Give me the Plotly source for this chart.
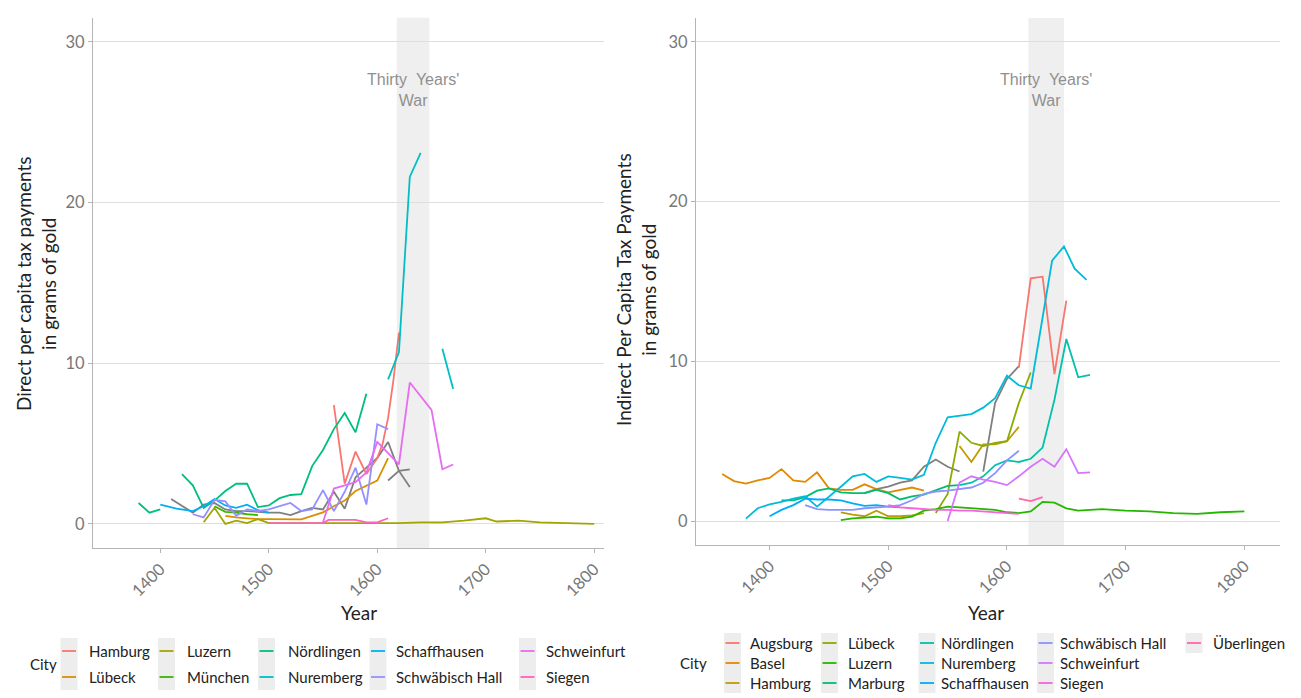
import plotly.graph_objects as go

W, H = 1301, 698
FONT = "Lato"


def px(x):
    return x / W


def py(y):
    return 1 - y / H


# ---------------- Direct per capita tax payments (left panel) ----------------
DIRECT_CITIES = ["Hamburg", "Lübeck", "Luzern", "München", "Nördlingen",
                 "Nuremberg", "Schaffhausen", "Schwäbisch Hall", "Schweinfurt", "Siegen"]
DIRECT_COLORS = ["#F8766D", "#D89000", "#A3A500", "#39B600", "#00BF7D",
                 "#00BFC4", "#00B0F6", "#9590FF", "#E76BF3", "#FF62BC"]

d_hamburg_years = [1560, 1570, 1580, 1590, 1600, 1605, 1610, 1615, 1620]
d_hamburg_vals = [7.4, 2.5, 4.5, 3.1, 4.1, 5.0, 6.6, 9.0, 11.9]

d_luebeck_years = [1460, 1470, 1480, 1490, 1500, 1510, 1520, 1530, 1540, 1550,
                   1560, 1570, 1580, 1590, 1600, 1610]
d_luebeck_vals = [0.5, 0.4, 0.35, 0.3, 0.3, 0.3, 0.3, 0.28, 0.5, 0.72,
                  1.1, 1.45, 2.05, 2.4, 2.7, 4.1]

d_luzern_years = [1440, 1450, 1460, 1470, 1480, 1490, 1500, 1520, 1540, 1560, 1580,
                  1600, 1620, 1640, 1660, 1680, 1700, 1710, 1730, 1750, 1770, 1800]
d_luzern_vals = [0.1, 1.0, 0.0, 0.2, 0.05, 0.3, 0.05, 0.05, 0.05, 0.05, 0.05,
                 0.05, 0.05, 0.1, 0.1, 0.2, 0.35, 0.15, 0.2, 0.1, 0.05, 0.0]

d_muenchen_years = [1450, 1460, 1470, 1480, 1490]
d_muenchen_vals = [1.1, 0.75, 0.7, 0.6, 0.55]

d_noerdlingen_years = [1380, 1390, 1400, 1410, 1420, 1430, 1440, 1450, 1460, 1470, 1480,
                       1490, 1500, 1510, 1520, 1530, 1540, 1550, 1560, 1570, 1580, 1590]
d_noerdlingen_vals = [1.3, 0.7, 0.9, None, 3.1, 2.4, 1.0, 1.45, 2.05, 2.5, 2.5,
                      1.05, 1.15, 1.6, 1.8, 1.85, 3.6, 4.6, 5.9, 6.9, 5.7, 8.1]

d_nuremberg_years = [1610, 1620, 1630, 1640, 1650, 1660, 1670]
d_nuremberg_vals = [9.0, 10.7, 21.6, 23.1, None, 10.9, 8.4]

d_schaffhausen_years = [1400, 1415, 1430, 1440, 1450, 1460, 1470, 1480, 1490, 1500]
d_schaffhausen_vals = [1.2, 0.95, 0.8, 1.1, 1.55, 1.15, 1.0, 1.2, 0.85, 0.7]

d_schwhall_years = [1430, 1440, 1450, 1460, 1470, 1480, 1490, 1500, 1510, 1520,
                    1530, 1540, 1550, 1560, 1570, 1580, 1590, 1600, 1610]
d_schwhall_vals = [0.6, 0.4, 1.5, 1.4, 0.5, 0.9, 0.8, 0.9, 1.1, 1.3,
                   0.8, 0.9, 2.1, 0.8, 2.0, 3.5, 1.2, 6.2, 5.9]

d_schweinfurt_years = [1550, 1560, 1570, 1580, 1590, 1600, 1610, 1620, 1630, 1650, 1660, 1670]
d_schweinfurt_vals = [0.1, 2.2, 2.4, 2.6, 3.2, 5.1, 4.4, 3.7, 8.8, 7.1, 3.4, 3.7]

d_siegen_years = [1500, 1520, 1540, 1550, 1555, 1570, 1580, 1590, 1600, 1610]
d_siegen_vals = [0.05, 0.05, 0.05, 0.05, 0.25, 0.25, 0.25, 0.1, 0.1, 0.35]

# series without a city key (drawn in grey)
d_grey_a_years = [1410, 1420, 1430, 1440, 1450, 1460, 1470, 1480, 1490, 1500, 1510, 1520,
                  1530, 1540, 1550, 1560, 1570, 1580, 1590, 1600, 1610, 1620, 1630]
d_grey_a_vals = [1.55, 1.1, 0.7, 1.2, 1.3, 0.9, 0.8, 0.8, 0.75, 0.7, 0.7, 0.55,
                 0.8, 1.0, 0.9, 2.0, 0.95, 2.9, 3.5, 4.1, 5.1, 3.3, 2.3]
d_grey_b_years = [1610, 1620, 1630]
d_grey_b_vals = [2.7, 3.3, 3.4]

# ---------------- Indirect per capita tax payments (right panel) ----------------
INDIRECT_CITIES = ["Augsburg", "Basel", "Hamburg", "Lübeck", "Luzern", "Marburg",
                   "Nördlingen", "Nuremberg", "Schaffhausen", "Schwäbisch Hall",
                   "Schweinfurt", "Siegen", "Überlingen"]
INDIRECT_COLORS = ["#F8766D", "#E18A00", "#BE9C00", "#8CAB00", "#24B700", "#00BE70",
                   "#00C1AB", "#00BBDA", "#00ACFC", "#8B93FF", "#D575FE", "#F962DD", "#FF65AC"]

i_augsburg_years = [1610, 1620, 1630, 1640, 1650]
i_augsburg_vals = [9.6, 15.2, 15.3, 9.2, 13.8]

i_basel_years = [1360, 1370, 1380, 1390, 1400, 1410, 1420, 1430, 1440, 1450, 1460,
                 1470, 1480, 1490, 1500, 1510, 1520, 1530]
i_basel_vals = [2.95, 2.5, 2.35, 2.55, 2.7, 3.25, 2.55, 2.45, 3.05, 2.05, 1.95,
                1.95, 2.3, 2.0, 1.8, 1.95, 2.1, 1.9]

i_hamburg_years = [1460, 1470, 1480, 1490, 1500, 1510, 1520, 1530, 1545,
                   1560, 1570, 1580, 1590, 1600, 1610]
i_hamburg_vals = [0.55, 0.4, 0.3, 0.65, 0.3, 0.3, 0.35, 0.5, None,
                  4.7, 3.7, 4.8, 4.8, 5.0, 5.9]

i_luebeck_years = [1540, 1550, 1560, 1570, 1580, 1590, 1600, 1610, 1620]
i_luebeck_vals = [0.5, 1.7, 5.6, 4.9, 4.7, 4.9, 5.0, 7.4, 9.3]

i_luzern_years = [1460, 1470, 1480, 1490, 1500, 1510, 1520, 1530, 1540, 1550, 1560, 1570,
                  1580, 1590, 1600, 1610, 1620, 1630, 1640, 1650, 1660, 1670, 1680,
                  1700, 1720, 1740, 1760, 1780, 1800]
i_luzern_vals = [0.06, 0.17, 0.22, 0.27, 0.17, 0.17, 0.27, 0.65, 0.75, 0.9, 0.85, 0.8,
                 0.75, 0.7, 0.55, 0.5, 0.6, 1.2, 1.15, 0.8, 0.65, 0.7, 0.75,
                 0.65, 0.6, 0.5, 0.45, 0.55, 0.6]

i_marburg_years = [1410, 1420, 1430, 1440, 1450, 1460, 1470, 1480, 1490, 1500,
                   1510, 1520, 1530, 1540, 1550, 1560]
i_marburg_vals = [1.3, 1.3, 1.5, 1.9, 2.05, 1.8, 1.75, 1.75, 1.95, 1.75,
                  1.35, 1.55, 1.65, 1.9, 2.2, 2.25]

i_noerdlingen_years = [1560, 1570, 1580, 1590, 1600, 1610, 1620, 1630, 1640, 1650, 1660, 1670]
i_noerdlingen_vals = [2.25, 2.4, 2.8, 3.5, 3.8, 3.7, 3.9, 4.6, 7.6, 11.4, 9.0, 9.15]

i_nuremberg_years = [1380, 1390, 1400, 1410, 1420, 1430, 1440, 1450, 1460, 1470, 1480,
                     1490, 1500, 1510, 1520, 1530, 1540, 1550, 1560, 1570, 1580, 1590,
                     1600, 1610, 1620, 1630, 1638, 1648, 1657, 1667]
i_nuremberg_vals = [0.15, 0.8, 1.05, 1.2, 1.4, 1.55, 0.9, 1.5, 2.15, 2.8, 2.95,
                    2.45, 2.8, 2.7, 2.6, 2.9, 4.9, 6.5, 6.6, 6.7, 7.1, 7.7,
                    9.1, 8.5, 8.3, 12.6, 16.3, 17.2, 15.8, 15.1]

i_schaffhausen_years = [1400, 1410, 1420, 1430, 1440, 1450, 1460, 1470, 1480, 1490, 1500, 1510]
i_schaffhausen_vals = [0.3, 0.7, 1.0, 1.4, 1.35, 1.35, 1.3, 1.1, 0.95, 1.0, 0.9, 0.85]

i_schwhall_years = [1430, 1440, 1450, 1460, 1470, 1480, 1490, 1500, 1510, 1520, 1530,
                    1540, 1550, 1560, 1570, 1580, 1590, 1600, 1610]
i_schwhall_vals = [1.0, 0.75, 0.7, 0.7, 0.7, 0.8, 0.85, 0.9, 1.0, 1.3, 1.7,
                   1.85, 1.9, 2.0, 2.1, 2.4, 3.0, 3.8, 4.4]

i_schweinfurt_years = [1550, 1560, 1570, 1580, 1590, 1600, 1610, 1620, 1630, 1640, 1650, 1660, 1670]
i_schweinfurt_vals = [0.0, 2.4, 2.8, 2.6, 2.45, 2.25, 2.8, 3.4, 3.9, 3.4, 4.5, 3.0, 3.05]

i_siegen_years = [1500, 1510, 1520, 1530, 1540, 1550, 1560, 1570, 1580, 1590, 1600, 1610]
i_siegen_vals = [1.0, 0.85, 0.8, 0.75, 0.7, 0.7, 0.65, 0.65, 0.6, 0.55, 0.5, 0.45]

i_ueberlingen_years = [1610, 1620, 1630]
i_ueberlingen_vals = [1.4, 1.25, 1.5]

i_grey_a_years = [1480, 1490, 1500, 1510, 1520, 1530, 1540, 1550, 1560]
i_grey_a_vals = [1.75, 2.0, 2.15, 2.4, 2.55, 3.4, 3.85, 3.4, 3.1]
i_grey_b_years = [1580, 1590, 1600, 1610]
i_grey_b_vals = [3.1, 7.4, 8.9, 9.7]

WAR_START, WAR_END = 1618, 1648
GREY = "#7F7F7F"

direct_series = {
    "Hamburg": (d_hamburg_years, d_hamburg_vals),
    "Lübeck": (d_luebeck_years, d_luebeck_vals),
    "Luzern": (d_luzern_years, d_luzern_vals),
    "München": (d_muenchen_years, d_muenchen_vals),
    "Nördlingen": (d_noerdlingen_years, d_noerdlingen_vals),
    "Nuremberg": (d_nuremberg_years, d_nuremberg_vals),
    "Schaffhausen": (d_schaffhausen_years, d_schaffhausen_vals),
    "Schwäbisch Hall": (d_schwhall_years, d_schwhall_vals),
    "Schweinfurt": (d_schweinfurt_years, d_schweinfurt_vals),
    "Siegen": (d_siegen_years, d_siegen_vals),
}
indirect_series = {
    "Augsburg": (i_augsburg_years, i_augsburg_vals),
    "Basel": (i_basel_years, i_basel_vals),
    "Hamburg": (i_hamburg_years, i_hamburg_vals),
    "Lübeck": (i_luebeck_years, i_luebeck_vals),
    "Luzern": (i_luzern_years, i_luzern_vals),
    "Marburg": (i_marburg_years, i_marburg_vals),
    "Nördlingen": (i_noerdlingen_years, i_noerdlingen_vals),
    "Nuremberg": (i_nuremberg_years, i_nuremberg_vals),
    "Schaffhausen": (i_schaffhausen_years, i_schaffhausen_vals),
    "Schwäbisch Hall": (i_schwhall_years, i_schwhall_vals),
    "Schweinfurt": (i_schweinfurt_years, i_schweinfurt_vals),
    "Siegen": (i_siegen_years, i_siegen_vals),
    "Überlingen": (i_ueberlingen_years, i_ueberlingen_vals),
}

fig = go.Figure()

LINE_W = 1.8


def add_line(x, y, color, name, xa, ya):
    fig.add_trace(go.Scatter(
        x=x, y=y, mode="lines", name=name, connectgaps=False,
        line=dict(color=color, width=LINE_W), xaxis=xa, yaxis=ya,
        showlegend=False, hoverinfo="x+y+name"))


for yrs, vals in [(d_grey_a_years, d_grey_a_vals), (d_grey_b_years, d_grey_b_vals)]:
    add_line(yrs, vals, GREY, "n/a", "x", "y")
for city, color in zip(DIRECT_CITIES, DIRECT_COLORS):
    yrs, vals = direct_series[city]
    add_line(yrs, vals, color, city, "x", "y")

for yrs, vals in [(i_grey_a_years, i_grey_a_vals), (i_grey_b_years, i_grey_b_vals)]:
    add_line(yrs, vals, GREY, "n/a", "x2", "y2")
for city, color in zip(INDIRECT_CITIES, INDIRECT_COLORS):
    yrs, vals = indirect_series[city]
    add_line(yrs, vals, color, city, "x2", "y2")

# ---------------- axes ----------------
AXIS_LINE = "#B5B5B5"
TICK_FONT = dict(family=FONT, size=16.5, color="#777777")

xcommon = dict(tick0=1400, dtick=100, tickangle=-45, showline=True, linecolor=AXIS_LINE,
               linewidth=1.2, ticks="outside", ticklen=4, tickcolor=AXIS_LINE, tickwidth=1.2,
               showgrid=False, zeroline=False, tickfont=TICK_FONT, automargin=False)
ycommon = dict(range=[-1.5, 31.5], tick0=0, dtick=10, showline=True, linecolor=AXIS_LINE,
               linewidth=1.2, ticks="outside", ticklen=4, tickcolor=AXIS_LINE, tickwidth=1.2,
               showgrid=True, gridcolor="#DEDEDE", gridwidth=1.3, zeroline=False,
               tickfont=TICK_FONT, automargin=False)

fig.update_layout(
    xaxis=dict(domain=[px(93), px(604)], range=[1338, 1809], anchor="y", **xcommon),
    yaxis=dict(domain=[py(548), py(17.8)], anchor="x", **ycommon),
    xaxis2=dict(domain=[px(696), px(1280)], range=[1338, 1830], anchor="y2", **xcommon),
    yaxis2=dict(domain=[py(545), py(18)], anchor="x2", **ycommon),
)

shapes = []
annotations = []

# Thirty Years' War band and label
for xr, yr in [("x", "y domain"), ("x2", "y2 domain")]:
    shapes.append(dict(type="rect", xref=xr, yref=yr, x0=WAR_START, x1=WAR_END, y0=0, y1=1,
                       fillcolor="#EFEFEF", line=dict(width=0), layer="below"))
    annotations.append(dict(xref=xr, yref="paper", x=1633, y=py(90),
                            text="Thirty\u00a0\u00a0Years'<br>War", showarrow=False,
                            xanchor="center", yanchor="middle",
                            font=dict(family="Liberation Sans", size=16, color="#909090")))

# axis titles
TITLE_FONT = dict(family=FONT, size=19, color="#222222")
annotations += [
    dict(xref="paper", yref="paper", x=px(36), y=py(284), textangle=-90, showarrow=False,
         text="Direct per capita tax payments<br>in grams of gold", font=TITLE_FONT,
         xanchor="center", yanchor="middle"),
    dict(xref="paper", yref="paper", x=px(636), y=py(290), textangle=-90, showarrow=False,
         text="Indirect Per Capita Tax Payments<br>in grams of gold", font=TITLE_FONT,
         xanchor="center", yanchor="middle"),
    dict(xref="paper", yref="paper", x=px(359), y=py(612), text="Year", showarrow=False,
         font=dict(family=FONT, size=19, color="#222222"), xanchor="center", yanchor="middle"),
    dict(xref="paper", yref="paper", x=px(986), y=py(612), text="Year", showarrow=False,
         font=dict(family=FONT, size=19, color="#222222"), xanchor="center", yanchor="middle"),
]

# ---------------- keys (City) ----------------
LEG_FONT = dict(family=FONT, size=15, color="#222222")
KEY_BG = "#EDEDED"


def add_key(cities, colors, title_x, title_y, col_key_x, col_text_x, rows_y, row_h):
    annotations.append(dict(xref="paper", yref="paper", x=px(title_x), y=py(title_y),
                            text="City", showarrow=False, xanchor="left", yanchor="middle",
                            font=LEG_FONT))
    n_rows = len(rows_y)
    for i, (city, color) in enumerate(zip(cities, colors)):
        c, r = divmod(i, n_rows)
        kx, ky = col_key_x[c], rows_y[r]
        shapes.append(dict(type="rect", xref="paper", yref="paper",
                           x0=px(kx - 8.5), x1=px(kx + 8.5),
                           y0=py(ky + row_h / 2), y1=py(ky - row_h / 2),
                           fillcolor=KEY_BG, line=dict(width=0), layer="above"))
        shapes.append(dict(type="line", xref="paper", yref="paper",
                           x0=px(kx - 7), x1=px(kx + 7), y0=py(ky), y1=py(ky),
                           line=dict(color=color, width=1.8), layer="above"))
        annotations.append(dict(xref="paper", yref="paper", x=px(col_text_x[c]), y=py(ky),
                                text=city, showarrow=False, xanchor="left",
                                yanchor="middle", font=LEG_FONT))


add_key(DIRECT_CITIES, DIRECT_COLORS, 28, 664,
        [69, 166.5, 266.5, 378, 527.5], [87, 185, 286, 394, 544], [651, 677], 26)
add_key(INDIRECT_CITIES, INDIRECT_COLORS, 678, 663,
        [732.5, 829.5, 927, 1045.5, 1194], [748, 846, 939, 1058, 1211], [643, 663, 683], 20)

fig.update_layout(
    width=W, height=H, margin=dict(l=0, r=0, t=0, b=0),
    paper_bgcolor="white", plot_bgcolor="white",
    showlegend=False, shapes=shapes, annotations=annotations,
    font=dict(family=FONT),
)

fig.write_html("out.html")
